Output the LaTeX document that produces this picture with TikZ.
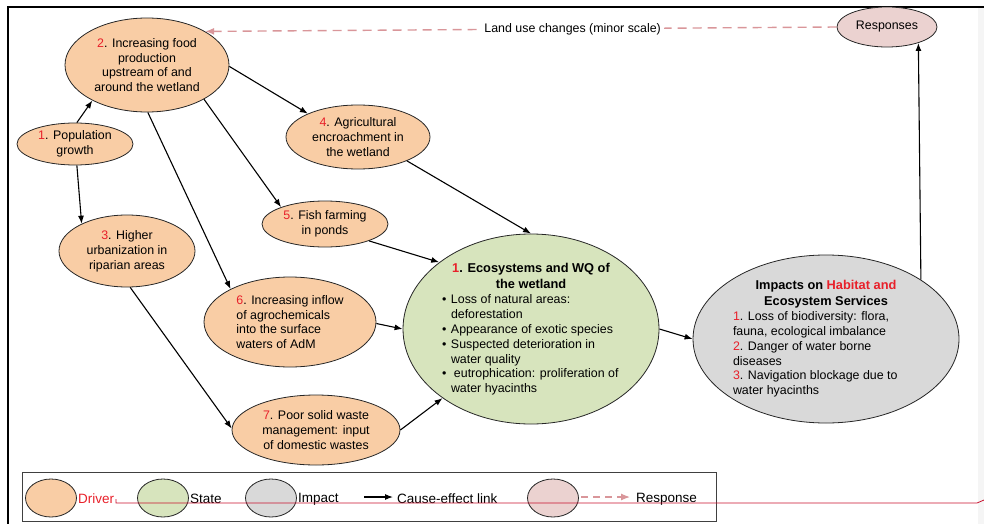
\documentclass[tikz,border=0pt]{standalone}
\usepackage{fontspec}
\setmainfont{Liberation Sans}
\usetikzlibrary{shapes.geometric,arrows.meta}
\definecolor{drv}{HTML}{F9CDA5}
\definecolor{stc}{HTML}{D7E4BD}
\definecolor{imc}{HTML}{D9D9D9}
\definecolor{rsc}{HTML}{EBD2D0}
\definecolor{dsh}{HTML}{D9969A}
\definecolor{rd}{HTML}{E8202A}
\definecolor{lnred}{HTML}{C8102E}
\newcommand\nr[1]{\textcolor{rd}{#1}}
\newcommand\bul{\makebox[9pt][l]{\textbullet}}
\newcommand\ind{\hspace*{9pt}}
\tikzset{
  base/.style={ellipse, draw=black!85, line width=0.8pt, inner sep=0pt, align=center,
    font=\fontsize{12.4}{14.8}\selectfont},
  driver/.style={base, fill=drv},
  stat/.style={base, fill=stc},
  imp/.style={base, fill=imc},
  resp/.style={base, fill=rsc},
  arr/.style={-{Latex[length=8pt,width=6pt]}, line width=1.1pt, black},
  dsharr/.style={-{Latex[length=9pt,width=7pt]}, line width=1.4pt, dsh, dash pattern=on 9pt off 6pt},
  lgfont/.style={font=\fontsize{13.5}{15}\selectfont, inner sep=0pt},
}
\begin{document}
\begin{tikzpicture}[x=1pt,y=-1pt]
\useasboundingbox (0,0) rectangle (984,524);
\fill[gray!8] (978,8) rectangle (984,524);
\draw[line width=1.2pt] (8,524) -- (8,7) -- (984,7);

% drivers
\node[driver, minimum width=164, minimum height=94] (n2) at (147,65)
  {\nr{2}. Increasing food\\production\\upstream of and\\around the wetland};
\node[driver, minimum width=116, minimum height=42] (n1) at (75,144)
  {\nr{1}. Population\\growth};
\node[driver, minimum width=136, minimum height=72] (n3) at (127,251)
  {\nr{3}. Higher\\urbanization in\\riparian areas};
\node[driver, minimum width=144, minimum height=64] (n4) at (358,137)
  {\nr{4}. Agricultural\\encroachment in\\the wetland};
\node[driver, minimum width=126, minimum height=46] (n5) at (325,224)
  {\nr{5}. Fish farming\\in ponds};
\node[driver, minimum width=172, minimum height=90, align=left] (n6) at (290,322)
  {\nr{6}. Increasing inflow\\of agrochemicals\\into the surface\\waters of AdM};
\node[driver, minimum width=168, minimum height=70] (n7) at (316,430)
  {\nr{7}. Poor solid waste\\management: input\\of domestic wastes};

% state
\node[stat, minimum width=256, minimum height=190] (st) at (531,329)
  {\parbox{178pt}{{\centering\bfseries\fontsize{12.8}{16}\selectfont\nr{1}. Ecosystems and WQ of\\the wetland\par}
   \vspace{1pt}
   {\raggedright\bul Loss of natural areas:\\\ind deforestation\\\bul Appearance of exotic species\\\bul Suspected deterioration in\\\ind water quality\\\bul\hspace{3pt}eutrophication: proliferation of\\\ind water hyacinths\par}}};

% impact
\node[imp, minimum width=266, minimum height=168] (im) at (826,339)
  {\parbox{186pt}{{\centering\bfseries\fontsize{12.8}{16}\selectfont Impacts on \textcolor{rd}{Habitat and}\\Ecosystem Services\par}
   {\raggedright\nr{1}. Loss of biodiversity: flora,\\fauna, ecological imbalance\\\nr{2}. Danger of water borne\\diseases\\\nr{3}. Navigation blockage due to\\water hyacinths\par}}};

% response
\node[resp, minimum width=100, minimum height=40] (re) at (887,27) {Responses};

% links
\draw[arr] (n1.85) -- (n2.213);
\draw[arr] (n1.275) -- (n3.149);
\draw[arr] (n2.359) -- (n4.155);
\draw[arr] (n2.329) -- (n5.159);
\draw[arr] (n2.271) -- (n6.151);
\draw[arr] (n3.275) -- (n7.179);
\draw[arr] (n4.334) -- (st.90);
\draw[arr] (n5.339) -- (st.144);
\draw[arr] (n6.359) -- (st.180);
\draw[arr] (n7.0) -- (st.218);
\draw[arr] (st.0) -- (im.180);
\draw[arr] (im.32) -- (re.333);
\draw[dsharr] (re.180) -- node[pos=0.418, fill=white, inner sep=3pt, text=black,
   font=\fontsize{12.4}{14}\selectfont] (lu) {Land use changes (minor scale)} (n2.30);

% legend
\draw[line width=0.8pt, draw=black!75] (22,472) rectangle (716,521);
\node[driver, minimum width=51, minimum height=38] (lgd) at (51,498) {};
\node[lgfont, anchor=west, text=rd] (lgdt) at (78,499) {Driver};
\node[stat, minimum width=51, minimum height=38] (lgs) at (163,498) {};
\node[lgfont, anchor=west] (lgst) at (190,499) {State};
\node[imp, minimum width=51, minimum height=38] (lgi) at (271,498) {};
\node[lgfont, anchor=west] (lgit) at (298,499) {Impact};
\coordinate (la1) at (364,497);
\coordinate (la2) at (393,497);
\draw[arr] (la1) -- (la2);
\node[lgfont, anchor=west] (lgct) at (397,499) {Cause-effect link};
\node[resp, minimum width=51, minimum height=38] (lgr) at (553,498) {};
\coordinate (lr1) at (581,497);
\coordinate (lr2) at (630,497);
\draw[dsharr, dash pattern=on 7pt off 5pt, line width=1.2pt] (lr1) -- (lr2);
\node[lgfont, anchor=west] (lgrt) at (636,499) {Response};

\draw[lnred, line width=0.8pt] (116,499) -- (116,503) -- (977,503) -- (984,500);
\end{tikzpicture}
\end{document}
